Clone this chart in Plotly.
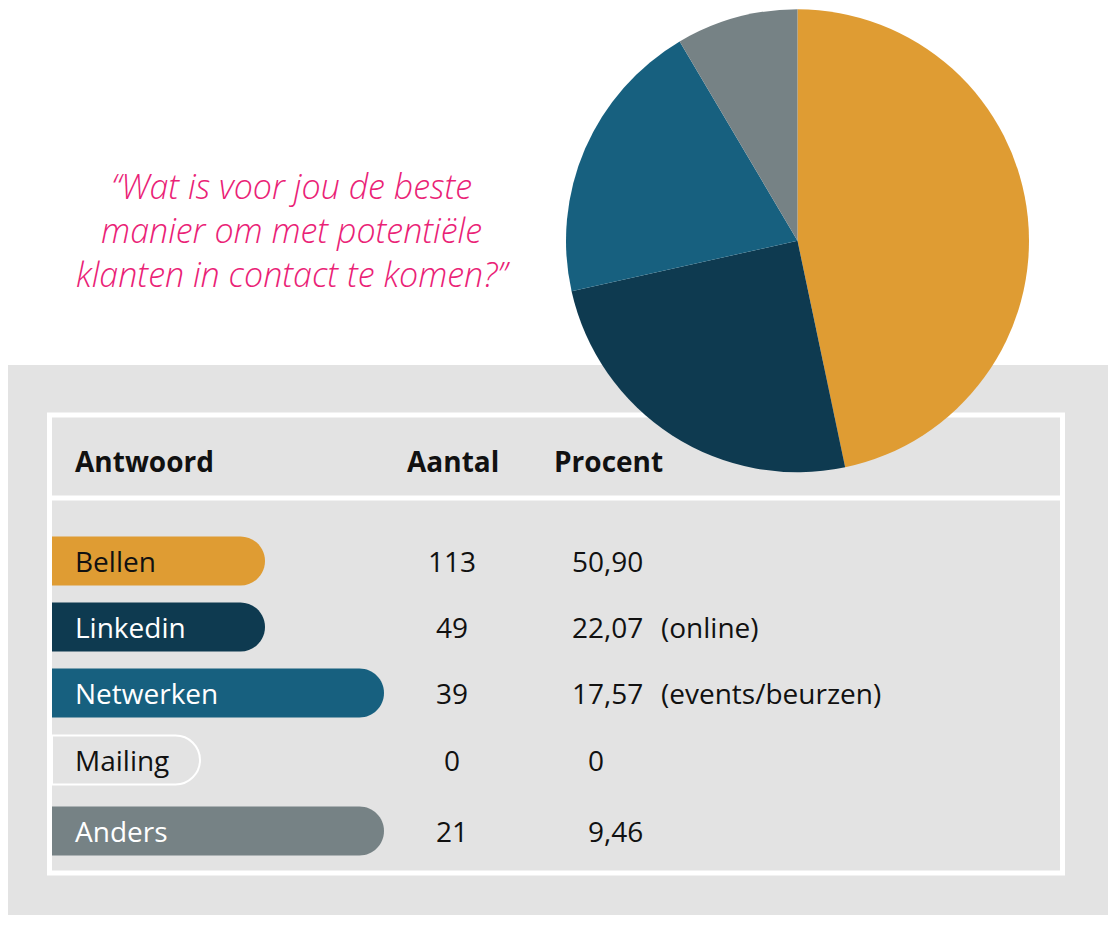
import plotly.graph_objects as go

# gegevens
antwoorden = ["Bellen", "Linkedin", "Netwerken", "Mailing", "Anders"]
aantal = [113, 49, 39, 0, 21]
procent = ["50,90", "22,07", "17,57", "0", "9,46"]
toelichting = ["", "(online)", "(events/beurzen)", "", ""]
# aandelen zoals ze in de taart getekend zijn
taart_aandeel = [46.7, 24.8, 20.0, 0.0, 8.5]
vraag = ["“Wat is voor jou de beste", "manier om met potentiële",
         "klanten in contact te komen?”"]

# opmaak
W, H = 1118, 930
OFF = 8  # de pagina zet de figuur 8px naar rechts/onder
kleur = {"Bellen": "#DF9C33", "Linkedin": "#0E3A50", "Netwerken": "#17607F",
         "Mailing": "white", "Anders": "#768285"}
tekstkleur = {"Bellen": "#111111", "Linkedin": "white", "Netwerken": "white",
              "Mailing": "#111111", "Anders": "white"}
FONT = "'Open Sans', Lato, sans-serif"
roze = "#EA2276"

rij_y = [561, 627, 693, 760, 831]
pil_rechts = [265, 265, 384, 200, 384]
pil_h = 49
links = 52

fig = go.Figure()

fig.add_trace(go.Pie(
    labels=antwoorden,
    values=taart_aandeel,
    marker=dict(colors=[kleur[a] for a in antwoorden], line=dict(width=0)),
    sort=False,
    direction="clockwise",
    rotation=0,
    textinfo="none",
    hoverinfo="label+percent",
    showlegend=False,
    domain=dict(x=[(566 - OFF) / W, (1029 - OFF) / W],
                y=[1 - (472.5 - OFF) / H, 1 - (9 - OFF) / H]),
))

shapes = []
# betonachtergrond
shapes.append(dict(type="rect", x0=8, x1=1108, y0=365, y1=915,
                   fillcolor="#E3E3E3", line=dict(width=0), layer="below"))
# witte kader
shapes.append(dict(type="rect", x0=49.5, x1=1062.5, y0=415, y1=873,
                   line=dict(color="white", width=5), layer="below"))
shapes.append(dict(type="line", x0=49.5, x1=1062.5, y0=498, y1=498,
                   line=dict(color="white", width=5), layer="below"))


def pil(x0, x1, yc, h):
    r = h / 2
    k = 0.5523 * r
    y0, y1 = yc - r, yc + r
    return (f"M {x0},{y0} L {x1 - r},{y0} "
            f"C {x1 - r + k},{y0} {x1},{yc - k} {x1},{yc} "
            f"C {x1},{yc + k} {x1 - r + k},{y1} {x1 - r},{y1} "
            f"L {x0},{y1} Z")


for naam, yc, xr in zip(antwoorden, rij_y, pil_rechts):
    if naam == "Mailing":
        shapes.append(dict(type="path", path=pil(links, xr, yc, pil_h),
                           fillcolor="rgba(0,0,0,0)",
                           line=dict(color="white", width=2), layer="below"))
    else:
        shapes.append(dict(type="path", path=pil(links, xr, yc, pil_h),
                           fillcolor=kleur[naam], line=dict(width=0), layer="below"))

ann = []
# vraag
ann.append(dict(x=293, y=230, text="<br>".join(vraag), xanchor="center",
                align="center",
                font=dict(family=FONT, size=34, color=roze,
                          style="italic", weight=300)))

# kopregel
kop = dict(family=FONT, size=28, color="#111111", weight="bold")
ann.append(dict(x=75, y=461, text="Antwoord", xanchor="left", font=kop))
ann.append(dict(x=453, y=461, text="Aantal", xanchor="center", font=kop))
ann.append(dict(x=554, y=461, text="Procent", xanchor="left", font=kop))

body = dict(family=FONT, size=28, color="#111111")
komma_x = 604
for naam, yc, n, p, t in zip(antwoorden, rij_y, aantal, procent, toelichting):
    ann.append(dict(x=75, y=yc, text=naam, xanchor="left",
                    font=dict(family=FONT, size=28, color=tekstkleur[naam])))
    ann.append(dict(x=452, y=yc, text=str(n), xanchor="center", font=body))
    # decimaal uitlijnen op de komma
    heel, _, frac = p.partition(",")
    ann.append(dict(x=komma_x, y=yc, text=heel, xanchor="right", font=body))
    if frac:
        ann.append(dict(x=komma_x, y=yc, text="," + frac, xanchor="left", font=body))
    if t:
        ann.append(dict(x=661, y=yc, text=t, xanchor="left", font=body))

for a in ann:
    a.update(xref="x", yref="y", showarrow=False, yanchor="middle",
             borderpad=0, borderwidth=0)

fig.update_layout(
    width=W, height=H,
    margin=dict(l=0, r=0, t=0, b=0),
    paper_bgcolor="white",
    plot_bgcolor="rgba(0,0,0,0)",
    xaxis=dict(range=[OFF, W + OFF], visible=False, fixedrange=True, domain=[0, 1]),
    yaxis=dict(range=[H + OFF, OFF], visible=False, fixedrange=True, domain=[0, 1]),
    shapes=shapes,
    annotations=ann,
    showlegend=False,
)

fig.write_html("out.html")
